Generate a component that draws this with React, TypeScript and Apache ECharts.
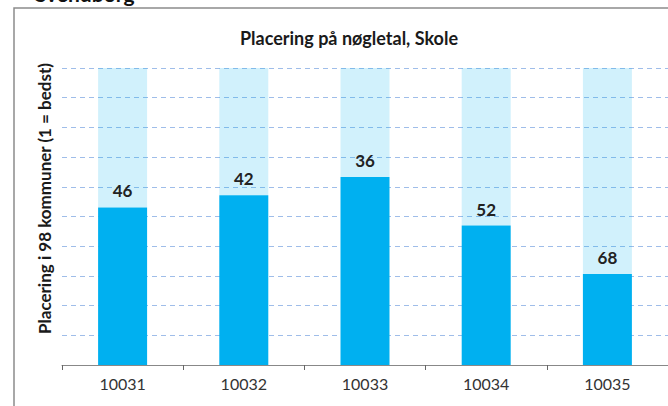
import React, { useEffect, useRef } from "react";
import * as echarts from "echarts";

const categories = ["10031", "10032", "10033", "10034", "10035"];
const ranks = [46, 42, 36, 52, 68];
const totalKommuner = 98;
const titleText = "Placering på nøgletal, Skole";
const yAxisName = "Placering i 98 kommuner (1 = bedst)";
const headerText = "Svendborg";

export default function App() {
  const ref = useRef<HTMLDivElement>(null);
  useEffect(() => {
    if (!ref.current) return;
    const chart = echarts.init(ref.current, null, { renderer: "svg" });
    const font = "Lato, Open Sans, sans-serif";
    chart.setOption({
      animation: false,
      backgroundColor: "#fff",
      textStyle: { fontFamily: font },
      title: {
        text: titleText,
        left: 344,
        textAlign: "center",
        top: 24,
        textStyle: { fontSize: 18, fontWeight: "bold", color: "#1a1a1a", fontFamily: font },
      },
      graphic: [
        {
          type: "rect",
          shape: { x: 14, y: 8, width: 700, height: 420 },
          style: { fill: "none", stroke: "#8c8c8c", lineWidth: 1.5 },
          silent: true,
        },
        {
          type: "text",
          x: 35,
          y: -17,
          style: { text: headerText, fontSize: 21, fontWeight: "bold", fill: "#111", fontFamily: font },
          silent: true,
        },
      ],
      grid: { left: 62, right: 0, top: 68, bottom: 41 },
      xAxis: {
        type: "category",
        data: categories,
        axisLine: { lineStyle: { color: "#888", width: 1 } },
        axisTick: { show: true, length: 5, lineStyle: { color: "#666" } },
        axisLabel: { color: "#333", fontSize: 16, margin: 10, fontFamily: font },
      },
      yAxis: {
        type: "value",
        min: 0,
        max: totalKommuner,
        interval: totalKommuner / 10,
        name: yAxisName,
        nameLocation: "middle",
        nameGap: 9,
        nameTextStyle: {
          fontSize: 17,
          fontWeight: "bold",
          color: "#1a1a1a",
          fontFamily: font,
          padding: [0, 0, 0, 36],
        },
        axisLine: { show: false },
        axisTick: { show: false },
        axisLabel: { show: false },
        splitLine: { lineStyle: { color: "#9fbde9", type: [5, 4], width: 1 } },
      },
      series: [
        {
          type: "bar",
          stack: "s",
          barWidth: 49,
          data: ranks.map((r) => totalKommuner - r),
          itemStyle: { color: "#00b0f0" },
          label: {
            show: true,
            position: "top",
            distance: 8,
            formatter: (p: any) => String(ranks[p.dataIndex]),
            fontSize: 17,
            fontWeight: "bold",
            color: "#222",
            fontFamily: font,
          },
          z: 3,
        },
        {
          type: "bar",
          stack: "s",
          barWidth: 49,
          data: ranks,
          itemStyle: { color: "rgba(0,176,240,0.18)" },
          z: 1,
        },
      ],
    });
    return () => chart.dispose();
  }, []);
  return <div ref={ref} style={{ width: 668, height: 406, position: "absolute", left: 0, top: 0 }} />;
}
